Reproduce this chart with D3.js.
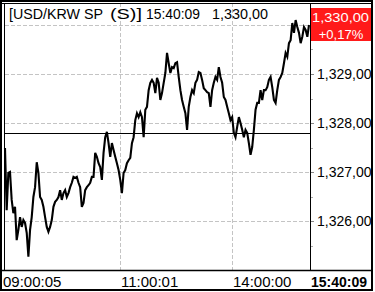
<!DOCTYPE html>
<html>
<head>
<meta charset="utf-8">
<script src="https://cdn.jsdelivr.net/npm/d3@7"></script>
<style>
  body { margin: 0; background: #fff; }
  svg { display: block; }
  text { font-family: "Liberation Sans", Arial, sans-serif; }
</style>
</head>
<body>
<svg id="chart" width="375" height="292"></svg>
<script>
const svg = d3.select("#chart");

const titleParts = ["[USD/KRW SP", "(S)]"];
const lastTime = "15:40:09";
const prevClose = 1327.80;

// tick prices left to right
const prices = [
  1327.49, 1326.22, 1326.98, 1327.00, 1326.43, 1326.16, 1326.29, 1325.61, 1325.82, 1326.08,
  1325.88, 1326.02, 1325.96, 1325.76, 1325.27, 1325.82, 1326.08, 1326.49, 1326.69, 1327.20,
  1326.98, 1326.49, 1326.43, 1326.29, 1326.08, 1325.88, 1325.78, 1325.88, 1326.02, 1326.29,
  1326.39, 1326.43, 1326.49, 1326.63, 1326.43, 1326.57, 1326.63, 1326.49, 1326.57, 1326.69,
  1326.78, 1326.90, 1326.88, 1326.90, 1326.78, 1326.69, 1326.29, 1326.37, 1326.63, 1326.69,
  1326.73, 1326.78, 1326.90, 1326.90, 1327.39, 1327.31, 1327.18, 1327.10, 1326.84, 1327.39,
  1327.71, 1327.82, 1327.59, 1327.31, 1327.59, 1327.45, 1327.31, 1327.18, 1327.04, 1326.84,
  1326.57, 1326.98, 1327.04, 1327.18, 1327.24,
  1327.29, 1327.59, 1327.71, 1328.06, 1328.20, 1328.12, 1328.22, 1328.12, 1327.71, 1328.27,
  1328.33, 1328.67, 1328.82, 1328.88, 1328.82, 1328.61, 1328.92, 1328.82, 1328.47, 1328.61,
  1328.82, 1329.02, 1329.43, 1329.22, 1329.02, 1329.14, 1329.12, 1329.22, 1329.24, 1328.94,
  1328.67, 1328.47, 1328.33, 1328.20, 1327.86, 1328.33, 1328.53, 1328.67, 1328.61, 1328.82,
  1328.88, 1329.04, 1329.02, 1328.88, 1328.71, 1328.67, 1328.63, 1328.61, 1328.33, 1328.67,
  1328.82, 1328.94, 1328.88, 1329.14, 1328.94, 1328.82, 1328.53, 1328.47, 1328.33, 1328.20,
  1328.06, 1328.12, 1327.80, 1327.71, 1327.92, 1328.12, 1328.00, 1327.86, 1327.71, 1327.86,
  1327.80, 1327.59, 1327.35, 1327.51, 1327.86, 1328.27, 1328.41, 1328.41, 1328.67, 1328.47,
  1328.67, 1328.67, 1328.73, 1328.88, 1328.94, 1328.73, 1328.47, 1328.41, 1328.67, 1328.88,
  1328.94,
  1329.02, 1329.22, 1329.43, 1329.35, 1329.63, 1329.69, 1330.04, 1329.84, 1330.10, 1329.96,
  1329.84, 1329.63, 1329.76, 1329.96, 1329.90, 1329.76, 1330.00
];

const priceTicks = [1326, 1327, 1328, 1329, 1330];
const minorTicks = [1325.5, 1326.5, 1327.5, 1328.5, 1329.5];
const timeIdx = [0, 69, 136];
const timeLabels = ["09:00:05", "11:00:01", "14:00:00"];

const pLeft = 5, pRight = 310, pTop = 3, pBottom = 270;

const x = d3.scaleLinear().domain([0, prices.length - 1]).range([pLeft, 309]);
const y = d3.scaleLinear().domain([1326, 1329]).range([221, 74]);

const fmt = v => d3.format(",.2f")(v).replace(".", ",");

const last = prices[prices.length - 1];
const chg = (last - prevClose) / prevClose * 100;
const boxTop = 8, boxH = 33;

// clip for right axis texts
svg.append("clipPath").attr("id", "axisClip")
  .append("rect").attr("x", 310).attr("y", 0).attr("width", 61).attr("height", 270);

// grid
const grid = svg.append("g")
  .attr("stroke", "#c4c4c4")
  .attr("stroke-dasharray", "4,2");

grid.selectAll(".hg").data(priceTicks).join("line")
  .attr("x1", pLeft).attr("x2", pRight)
  .attr("y1", d => Math.round(y(d)) + 0.5).attr("y2", d => Math.round(y(d)) + 0.5);

grid.selectAll(".vg").data(timeIdx.slice(1)).join("line")
  .attr("y1", pTop).attr("y2", pBottom)
  .attr("x1", d => Math.round(x(d)) + 0.5).attr("x2", d => Math.round(x(d)) + 0.5);

// previous close
svg.append("line")
  .attr("x1", pLeft).attr("x2", pRight)
  .attr("y1", Math.round(y(prevClose)) + 0.5).attr("y2", Math.round(y(prevClose)) + 0.5)
  .attr("stroke", "#000");

// price line
const line = d3.line().x((d, i) => x(i)).y(d => y(d));
svg.append("path")
  .datum(prices)
  .attr("d", line)
  .attr("fill", "none")
  .attr("stroke", "#000")
  .attr("stroke-width", 2.1)
  .attr("stroke-linejoin", "miter");

// right axis (labels under the price box are hidden)
const axisG = svg.append("g").attr("clip-path", "url(#axisClip)");
axisG.selectAll(".tk").data(priceTicks).join("line")
  .attr("x1", 310).attr("x2", 314)
  .attr("y1", d => Math.round(y(d)) + 0.5).attr("y2", d => Math.round(y(d)) + 0.5)
  .attr("stroke", "#888");
axisG.selectAll(".mk").data(minorTicks).join("line")
  .attr("x1", 310).attr("x2", 313)
  .attr("y1", d => Math.round(y(d)) + 0.5).attr("y2", d => Math.round(y(d)) + 0.5)
  .attr("stroke", "#aaa");
axisG.selectAll(".tl").data(priceTicks.filter(d => y(d) - 6 > boxTop + boxH || y(d) + 6 < boxTop)).join("text")
  .attr("x", 317).attr("y", d => y(d) + 5)
  .attr("font-size", 14)
  .attr("fill", "#000")
  .text(d => fmt(d));

// current price box
const box = svg.append("g").attr("clip-path", "url(#axisClip)");
box.append("rect").attr("x", 310).attr("y", boxTop).attr("width", 62).attr("height", boxH).attr("fill", "#ff1a1a");
box.append("text").attr("x", 312).attr("y", 22).attr("font-size", 12.5).attr("fill", "#fff")
  .attr("textLength", 57).attr("lengthAdjust", "spacingAndGlyphs")
  .text(fmt(last));
box.append("text").attr("x", 341).attr("y", 39).attr("font-size", 13).attr("fill", "#fff")
  .attr("text-anchor", "middle")
  .text((chg >= 0 ? "+" : "") + d3.format(".2f")(chg).replace(".", ",") + "%");

// frames
svg.append("line").attr("x1", 310.5).attr("x2", 310.5).attr("y1", pTop).attr("y2", pBottom).attr("stroke", "#000");
svg.append("line").attr("x1", 4.5).attr("x2", 4.5).attr("y1", pTop).attr("y2", pBottom).attr("stroke", "#000");
svg.append("line").attr("x1", 1).attr("x2", 372).attr("y1", 270.5).attr("y2", 270.5).attr("stroke", "#000").attr("stroke-width", 1.5);
svg.append("line").attr("x1", 1).attr("x2", 372).attr("y1", 3.5).attr("y2", 3.5).attr("stroke", "#000");
svg.append("rect").attr("x", 1).attr("y", 1).attr("width", 371).attr("height", 289)
  .attr("fill", "none").attr("stroke", "#000").attr("stroke-width", 2);

// title
const titleG = svg.append("g").attr("font-size", 15).attr("fill", "#000");
titleG.append("text").attr("x", 9).attr("y", 19)
  .attr("textLength", 94).attr("lengthAdjust", "spacingAndGlyphs").text(titleParts[0]);
titleG.append("text").attr("x", 110).attr("y", 19)
  .attr("textLength", 32).attr("lengthAdjust", "spacingAndGlyphs").text(titleParts[1]);
titleG.append("text").attr("x", 146).attr("y", 19)
  .attr("textLength", 54).attr("lengthAdjust", "spacingAndGlyphs").text(lastTime);
titleG.append("text").attr("x", 212).attr("y", 19)
  .attr("textLength", 56).attr("lengthAdjust", "spacingAndGlyphs").text(fmt(last));

// time axis
svg.selectAll(".xl").data(timeIdx).join("text")
  .attr("x", (d, i) => i === 0 ? 3 : Math.round(x(d)) + 1)
  .attr("y", 287)
  .attr("font-size", 15)
  .attr("fill", "#000")
  .text((d, i) => timeLabels[i]);

svg.append("text").attr("x", 367).attr("y", 287).attr("font-size", 14)
  .attr("font-weight", "bold").attr("text-anchor", "end").text(lastTime);
</script>
</body>
</html>
